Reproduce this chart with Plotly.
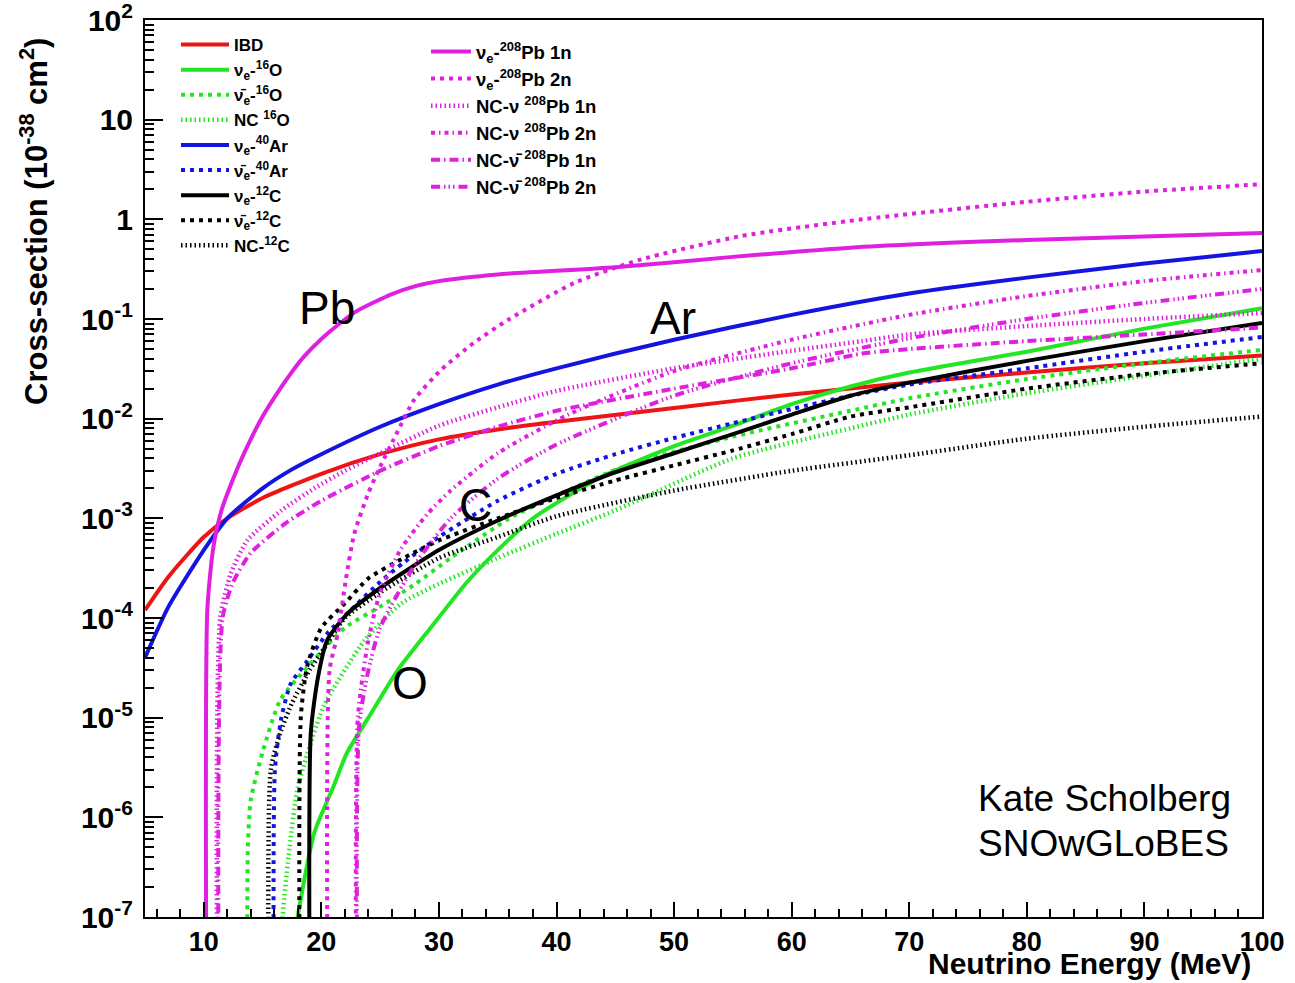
import plotly.graph_objects as go

# ---------------- data ----------------
E_ibd = [5, 7, 10, 12, 15, 20, 25, 30, 35, 40, 50, 60, 70, 80, 90, 100]
s_ibd = [1.2e-4, 2.6e-4, 6.5e-4, 1.0e-3, 1.6e-3, 2.8e-3, 4.4e-3, 6.2e-3, 7.8e-3, 9.3e-3,
         0.0128, 0.0175, 0.023, 0.029, 0.036, 0.043]

E_o = [17.4, 17.6, 19.4, 21, 22.2, 24, 26.5, 29.3, 32.4, 35, 38, 43.8, 50, 55, 60, 65, 70, 80, 90, 100]
s_o = [1e-8, 5e-8, 7e-7, 2e-6, 4.5e-6, 1e-5, 3e-5, 8e-5, 2.3e-4, 4.8e-4, 1e-3, 2.6e-3, 5.3e-3,
       8.5e-3, 0.014, 0.021, 0.029, 0.047, 0.08, 0.128]

E_obar = [13.7, 13.75, 14, 15, 16.5, 18.8, 22, 25, 28, 31, 36, 40, 46, 55, 65, 70, 80, 90, 100]
s_obar = [1e-9, 5e-7, 1.5e-6, 4.5e-6, 1.5e-5, 3.2e-5, 8e-5, 1.3e-4, 2.2e-4, 4e-4, 1e-3, 1.7e-3,
          3.4e-3, 6.6e-3, 0.012, 0.016, 0.025, 0.036, 0.049]

E_nco = [16.5, 16.7, 17.3, 18, 20.2, 23.7, 26.8, 30, 35, 40, 45, 55, 65, 70, 80, 90, 100]
s_nco = [1e-8, 1e-7, 5e-7, 2e-6, 1.3e-5, 6e-5, 1.4e-4, 2.2e-4, 4e-4, 7e-4, 1.2e-3, 4e-3, 8e-3,
         0.011, 0.018, 0.027, 0.04]

E_ar = [5, 7, 10, 12, 15, 17.5, 20, 25, 30, 35, 40, 50, 60, 70, 80, 90, 100]
s_ar = [4.0e-5, 1.3e-4, 4.8e-4, 1.0e-3, 2.0e-3, 3.1e-3, 4.4e-3, 8.3e-3, 0.014, 0.022, 0.032,
        0.062, 0.11, 0.18, 0.26, 0.36, 0.48]

E_arbar = [16.0, 16.05, 16.6, 17.4, 18.8, 20.5, 22.8, 25, 27, 30, 35, 40, 45, 50, 55, 60, 65, 70, 80, 90, 100]
s_arbar = [1e-9, 3e-6, 1e-5, 2.2e-5, 3.7e-5, 7e-5, 1.3e-4, 2.3e-4, 3.6e-4, 6.5e-4, 1.5e-3, 2.8e-3,
           4.4e-3, 6.4e-3, 9e-3, 0.0125, 0.017, 0.022, 0.032, 0.047, 0.066]

E_c = [19.05, 19.1, 19.7, 20.5, 22.2, 25, 30, 35, 40, 45, 50, 55, 60, 65, 70, 80, 90, 100]
s_c = [1e-9, 7e-6, 2.5e-5, 6e-5, 1.1e-4, 2e-4, 4.8e-4, 9.5e-4, 1.7e-3, 2.9e-3, 4.5e-3, 7e-3,
       0.011, 0.017, 0.023, 0.038, 0.06, 0.091]

E_cbar = [18.2, 18.25, 18.8, 20, 22, 24, 27, 30, 35, 40, 45, 50, 55, 60, 65, 70, 80, 90, 100]
s_cbar = [1e-9, 1e-5, 3.3e-5, 8e-5, 1.4e-4, 2.5e-4, 4e-4, 6e-4, 1e-3, 1.6e-3, 2.4e-3, 3.4e-3,
          4.8e-3, 7e-3, 0.0105, 0.013, 0.02, 0.028, 0.036]

E_ncc = [15.6, 15.7, 16.5, 17.5, 19, 20, 22, 25, 30, 35, 40, 50, 60, 70, 80, 90, 100]
s_ncc = [1e-9, 3e-6, 7e-6, 1.4e-5, 3e-5, 4.5e-5, 1e-4, 1.8e-4, 4e-4, 6.5e-4, 1.05e-3, 1.9e-3,
         3e-3, 4.3e-3, 6.3e-3, 8.3e-3, 0.0105]

E_pb1 = [10.25, 10.3, 10.8, 11.5, 12.5, 13.5, 15, 16.5, 17.5, 18.5, 20, 21.5, 23, 26, 28, 30,
         35, 45, 55, 65, 80, 100]
s_pb1 = [1e-9, 1.2e-4, 5e-4, 1.2e-3, 2.5e-3, 4.7e-3, 0.0105, 0.020, 0.0295, 0.0417, 0.063,
         0.089, 0.12, 0.178, 0.214, 0.24, 0.28, 0.33, 0.42, 0.52, 0.62, 0.73]

E_pb2 = [20.6, 20.7, 21.4, 22.1, 22.8, 24, 25, 26.5, 27.9, 30.2, 33, 36, 41.5, 47, 55.7, 66, 80, 90, 100]
s_pb2 = [1e-9, 3e-5, 7e-5, 2.5e-4, 7e-4, 1.8e-3, 3.3e-3, 7.5e-3, 0.0155, 0.031, 0.058, 0.1, 0.23,
         0.39, 0.68, 1.0, 1.5, 1.9, 2.25]

E_ncv1 = [11.2, 11.4, 12.3, 13.7, 16.6, 19.4, 22, 25, 30, 35, 40, 50, 60, 66, 70, 80, 90, 100]
s_ncv1 = [1e-9, 1e-4, 2.8e-4, 6e-4, 1.2e-3, 2e-3, 3e-3, 4.5e-3, 8.5e-3, 0.013, 0.019, 0.032, 0.048,
          0.06, 0.07, 0.085, 0.1, 0.115]

E_ncv2 = [23.0, 23.1, 24, 25, 26.8, 29, 31, 35, 41, 50, 60, 70, 80, 90, 100]
s_ncv2 = [1e-9, 1e-5, 6e-5, 1.8e-4, 5e-4, 1.1e-3, 1.9e-3, 4.5e-3, 0.011, 0.03, 0.062, 0.11, 0.17,
          0.24, 0.31]

E_ncvb1 = [11.3, 11.6, 12.5, 14, 17, 20, 25, 30, 35, 40, 50, 60, 66, 70, 80, 90, 100]
s_ncvb1 = [1e-9, 1e-4, 2.3e-4, 4.5e-4, 9e-4, 1.5e-3, 3e-3, 5.3e-3, 8.3e-3, 0.012, 0.02, 0.032,
           0.045, 0.05, 0.06, 0.07, 0.082]

E_ncvb2 = [23.1, 23.2, 24, 25, 28, 31, 35, 40, 50, 60, 70, 80, 90, 100]
s_ncvb2 = [1e-9, 8e-6, 3e-5, 8e-5, 3.5e-4, 1e-3, 2.5e-3, 5.5e-3, 0.017, 0.036, 0.064, 0.1, 0.145, 0.2]

y_tickvals = [1e-7, 1e-6, 1e-5, 1e-4, 1e-3, 1e-2, 1e-1, 1, 10, 100]
y_ticktext = ["10<sup>-7</sup>", "10<sup>-6</sup>", "10<sup>-5</sup>", "10<sup>-4</sup>",
              "10<sup>-3</sup>", "10<sup>-2</sup>", "10<sup>-1</sup>", "1", "10",
              "10<sup>2</sup>"]
x_tickvals = [10, 20, 30, 40, 50, 60, 70, 80, 90, 100]

# ---------------- styles ----------------
RED = "#ee1414"
GREEN = "#22e622"
BLUE = "#1414e0"
BLACK = "#000000"
MAG = "#e020e0"

SQ = "4px,5px"          # ROOT dotted squares
TH = "1.5px,3px"        # ROOT fine dotted
NCV2 = "4px,4px,1.5px,4px"
NCVB1 = "9px,4px,1.5px,4px"
NCVB2 = "9px,4px,1.5px,3px,1.5px,3px,1.5px,4px"

NU = "\u03bd"
NUB = "\u03bd\u0304"

series = [
    # x, y, name, color, dash, width, legend
    (E_ibd, s_ibd, "IBD", RED, "solid", 4, "legend"),
    (E_o, s_o, f"{NU}<sub>e</sub>-<sup>16</sup>O", GREEN, "solid", 4, "legend"),
    (E_obar, s_obar, f"{NUB}<sub>e</sub>-<sup>16</sup>O", GREEN, SQ, 4, "legend"),
    (E_nco, s_nco, "NC <sup>16</sup>O", GREEN, TH, 4.5, "legend"),
    (E_ar, s_ar, f"{NU}<sub>e</sub>-<sup>40</sup>Ar", BLUE, "solid", 4, "legend"),
    (E_arbar, s_arbar, f"{NUB}<sub>e</sub>-<sup>40</sup>Ar", BLUE, SQ, 4, "legend"),
    (E_c, s_c, f"{NU}<sub>e</sub>-<sup>12</sup>C", BLACK, "solid", 4, "legend"),
    (E_cbar, s_cbar, f"{NUB}<sub>e</sub>-<sup>12</sup>C", BLACK, SQ, 4, "legend"),
    (E_ncc, s_ncc, "NC-<sup>12</sup>C", BLACK, TH, 4.5, "legend"),
    (E_pb1, s_pb1, f"{NU}<sub>e</sub>-<sup>208</sup>Pb 1n", MAG, "solid", 4, "legend2"),
    (E_pb2, s_pb2, f"{NU}<sub>e</sub>-<sup>208</sup>Pb 2n", MAG, SQ, 4, "legend2"),
    (E_ncv1, s_ncv1, f"NC-{NU} <sup>208</sup>Pb 1n", MAG, TH, 4.5, "legend2"),
    (E_ncv2, s_ncv2, f"NC-{NU} <sup>208</sup>Pb 2n", MAG, NCV2, 4, "legend2"),
    (E_ncvb1, s_ncvb1, f"NC-{NUB} <sup>208</sup>Pb 1n", MAG, NCVB1, 4, "legend2"),
    (E_ncvb2, s_ncvb2, f"NC-{NUB} <sup>208</sup>Pb 2n", MAG, NCVB2, 4, "legend2"),
]

fig = go.Figure()
for x, y, name, col, dash, w, lg in series:
    fig.add_trace(go.Scatter(x=x, y=y, name=name, mode="lines", legend=lg,
                             line=dict(color=col, dash=dash, width=w, shape="spline",
                                       smoothing=0.6)))

FONT = "Liberation Sans, Arial, sans-serif"

W, H = 1295, 983
L, R, T, B = 145, 33, 20, 66
pw, ph = W - L - R, H - T - B


def px(xp):
    return (xp - L) / pw


def py(yp):
    return (H - B - yp) / ph


fig.update_layout(
    width=W, height=H,
    margin=dict(l=L, r=R, t=T, b=B, autoexpand=False),
    paper_bgcolor="white", plot_bgcolor="white",
    font=dict(family=FONT, color="black"),
    showlegend=True,
    legend=dict(x=px(176), y=py(27), xanchor="left", yanchor="top",
                bgcolor="rgba(0,0,0,0)", font=dict(size=17, weight="bold"),
                itemwidth=48, tracegroupgap=0),
    legend2=dict(x=px(426), y=py(33), xanchor="left", yanchor="top",
                 bgcolor="rgba(0,0,0,0)", font=dict(size=18.5, weight="bold"),
                 itemwidth=40, tracegroupgap=0),
    xaxis=dict(range=[5, 100], tickvals=x_tickvals, ticks="inside", ticklen=15,
               tickwidth=1.5, tickcolor="black", automargin=False,
               ticklabeloverflow="allow",
               minor=dict(ticks="inside", ticklen=8, dtick=2, tick0=0, tickcolor="black",
                          tickwidth=1.5),
               showline=True, linecolor="black", linewidth=2, mirror=True,
               showgrid=False, zeroline=False,
               tickfont=dict(size=27, weight="bold", family=FONT)),
    yaxis=dict(type="log", range=[-7, 2], tickvals=y_tickvals, ticktext=y_ticktext,
               ticks="inside", ticklen=18, tickwidth=1.5, tickcolor="black", automargin=False,
               ticklabeloverflow="allow", ticklabelstandoff=4,
               minor=dict(ticks="inside", ticklen=9, tickcolor="black", tickwidth=1.5,
                          tickvals=[k * 10.0 ** n for n in range(-7, 2) for k in range(2, 10)]),
               showline=True, linecolor="black", linewidth=2, mirror=True,
               showgrid=False, zeroline=False,
               tickfont=dict(size=30, weight="bold", family=FONT)),
)

ann = [
    dict(text="Pb", x=px(327), y=py(308), size=46),
    dict(text="Ar", x=px(673), y=py(318), size=46),
    dict(text="C", x=px(475), y=py(505), size=46),
    dict(text="O", x=px(410), y=py(683), size=46),
]
for a in ann:
    fig.add_annotation(text=a["text"], x=a["x"], y=a["y"], xref="paper", yref="paper",
                       showarrow=False, xanchor="center", yanchor="middle",
                       font=dict(size=a["size"], family=FONT, color="black"))

fig.add_annotation(text="Kate Scholberg", x=px(976), y=py(798), xref="paper", yref="paper",
                   showarrow=False, xanchor="left", yanchor="middle",
                   font=dict(size=37, family=FONT, color="black"))
fig.add_annotation(text="SNOwGLoBES", x=px(976), y=py(843), xref="paper", yref="paper",
                   showarrow=False, xanchor="left", yanchor="middle",
                   font=dict(size=37, family=FONT, color="black"))

fig.add_annotation(text="Neutrino Energy (MeV)", x=px(1253), y=py(963), xref="paper",
                   yref="paper", showarrow=False, xanchor="right", yanchor="middle",
                   font=dict(size=30, family=FONT, color="black", weight="bold"))
fig.add_annotation(text="Cross-section (10<sup>-38</sup> cm<sup>2</sup>)", x=px(34),
                   y=py(222), xref="paper", yref="paper", showarrow=False,
                   xanchor="center", yanchor="middle", textangle=-90,
                   font=dict(size=31, family=FONT, color="black", weight="bold"))

fig.write_html("out.html")
